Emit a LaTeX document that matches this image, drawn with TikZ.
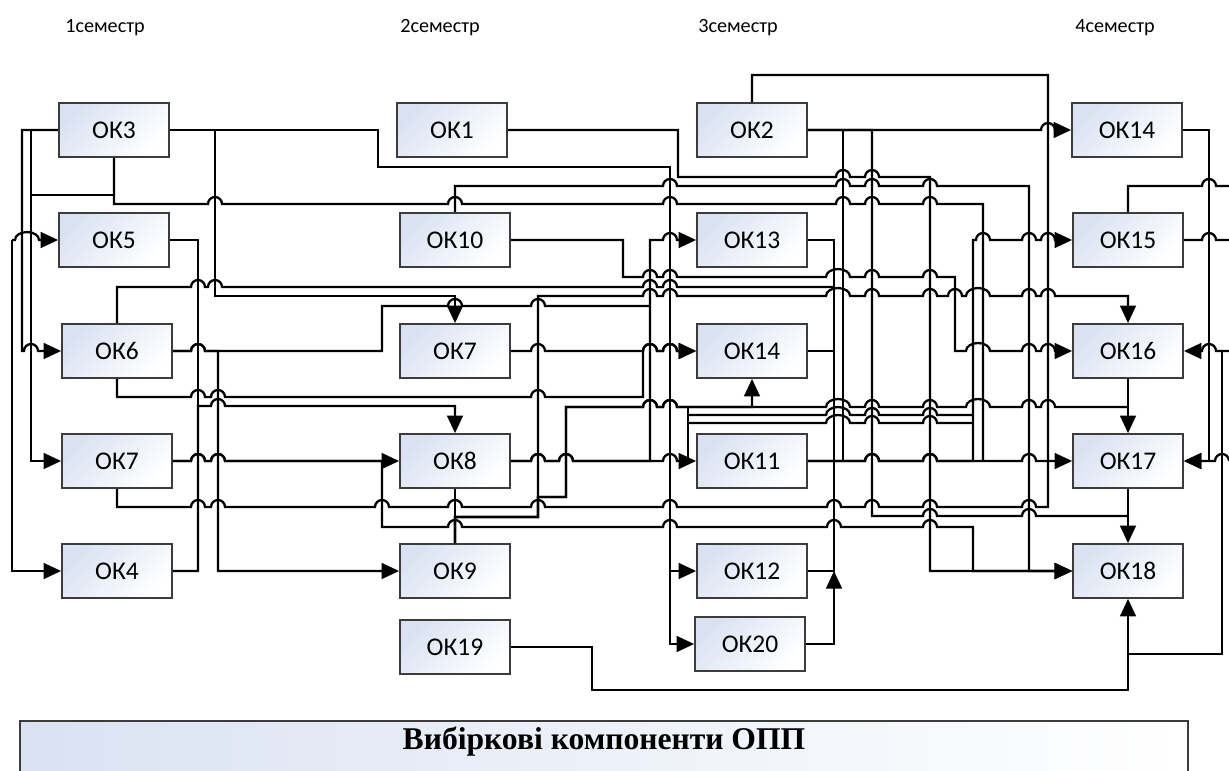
\documentclass[tikz,border=0pt]{standalone}
\usepackage{fontspec}
\setmainfont{Carlito}
\newfontfamily\bannerfont{Liberation Serif}
\usetikzlibrary{arrows.meta}

\definecolor{okfill}{RGB}{218,226,242}
\definecolor{okdraw}{RGB}{60,60,60}

\newcommand\jmp[2]{-- (#1-7,#2) arc[start angle=180,end angle=360,radius=7]}
\newcommand\wjmp[2]{-- (#1-12,#2) arc[start angle=180,end angle=360,x radius=12,y radius=8]}

\begin{document}
\begin{tikzpicture}[x=0.02cm,y=-0.02cm,line width=1.3pt,>={Triangle[length=10pt,width=9pt]},
  ok/.style={draw=okdraw,line width=1pt,top color=okfill,bottom color=white,shading angle=45,
    minimum width=2.2cm,minimum height=1.08cm,inner sep=0pt,font=\fontsize{14.5}{17}\selectfont},
  sem/.style={font=\fontsize{11.5}{14}\selectfont}]
\useasboundingbox (0,0) rectangle (1229,770);

\node[sem] (s1) at (105,28) {1семестр};
\node[sem] (s2) at (440,28) {2семестр};
\node[sem] (s3) at (738,28) {3семестр};
\node[sem] (s4) at (1115,28) {4семестр};

\node[ok] (ok3)  at (114,130) {ОК3};
\node[ok] (ok5)  at (114,240) {ОК5};
\node[ok] (ok6)  at (117,351) {ОК6};
\node[ok] (ok7a) at (117,461) {ОК7};
\node[ok] (ok4)  at (117,571) {ОК4};

\node[ok] (ok1)  at (452,130) {ОК1};
\node[ok] (ok10) at (455,240) {ОК10};
\node[ok] (ok7b) at (455,351) {ОК7};
\node[ok] (ok8)  at (455,461) {ОК8};
\node[ok] (ok9)  at (455,571) {ОК9};
\node[ok] (ok19) at (455,647) {ОК19};

\node[ok] (ok2)  at (752,130) {ОК2};
\node[ok] (ok13) at (752,240) {ОК13};
\node[ok] (ok14a) at (752,351) {ОК14};
\node[ok] (ok11) at (752,461) {ОК11};
\node[ok] (ok12) at (752,571) {ОК12};
\node[ok] (ok20) at (750,644) {ОК20};

\node[ok] (ok14b) at (1127,130) {ОК14};
\node[ok] (ok15) at (1128,240) {ОК15};
\node[ok] (ok16) at (1128,351) {ОК16};
\node[ok] (ok17) at (1128,461) {ОК17};
\node[ok] (ok18) at (1128,571) {ОК18};

\coordinate (lk) at (12,240);
\coordinate (b1) at (688,407);
\coordinate (b2) at (688,415);
\coordinate (b3) at (688,423);
\coordinate (j12) at (834,571);
\coordinate (c3) at (1222,351);
\coordinate (c4) at (1128,654);
\coordinate (r1) at (1229,186);
\coordinate (r2) at (1229,240);
\coordinate (r3) at (1229,351);
\coordinate (r4) at (1229,461);

% 1 семестр
\draw[->] (ok3.west) -- (22,130) -- (22,351) \jmp{31}{351} -- (ok6.west);
\draw[->] (ok3.west) -- (31,130) -- (31,461) -- (ok7a.west);
\draw (ok3.south) -- (114,195) -- (31,195);
\draw[->] (lk) \wjmp{27}{240} -- (ok5.west);
\draw[->] (lk) -- (12,571) -- (ok4.west);
\draw[->] (ok3.east) -- (378,130) -- (378,167) -- (670,167) -- (670,644) -- (ok20.west);
\draw[->] (ok3.east) -- (378,130) -- (378,167) -- (670,167) -- (670,571) -- (ok12.west);
\draw[->] (ok3.east) -- (215,130) -- (215,296) -- (455,296) -- (ok7b.north);
\draw (ok3.south) -- (114,204) \jmp{215}{204} \jmp{455}{204} \jmp{670}{204} \jmp{843}{204} \jmp{872}{204} \jmp{930}{204} -- (983,204) -- (983,461);
\draw (ok5.east) -- (198,240) -- (198,406);
\draw[->] (ok4.east) -- (198,571) -- (198,406) \jmp{218}{406} -- (455,406) -- (ok8.north);
\draw[->] (ok6.east) \jmp{198}{351} -- (218,351) -- (218,571) -- (ok9.west);
\draw (ok6.east) \jmp{198}{351} -- (382,351) -- (382,306) \jmp{455}{306} \jmp{538}{306} -- (650,306);
\draw (ok6.north) -- (117,287) \jmp{198}{287} \jmp{215}{287} \jmp{650}{287} \jmp{670}{287} -- (834,287);
\draw[->] (ok6.south) -- (117,397) \jmp{198}{397} \jmp{218}{397} \jmp{538}{397} -- (643,397) -- (643,351) \jmp{650}{351} \jmp{670}{351} -- (ok14a.west);
\draw[->] (ok7a.east) \jmp{198}{461} \jmp{218}{461} -- (ok8.west);
\draw[->] (ok7a.east) \jmp{198}{461} \jmp{218}{461} -- (382,461) -- (382,527) \jmp{455}{527} \jmp{670}{527} \jmp{834}{527} \jmp{930}{527} -- (973,527) -- (973,571) -- (ok18.west);
\draw (ok7a.south) -- (117,507) \jmp{198}{507} \jmp{218}{507} \jmp{382}{507} \jmp{455}{507} \jmp{538}{507} \jmp{670}{507} \jmp{834}{507} \jmp{872}{507} \jmp{930}{507} \jmp{1029}{507} -- (1048,507) -- (1048,75) -- (752,75) -- (ok2.north);

% 2 семестр
\draw[->] (ok1.east) -- (678,130) -- (678,177) \jmp{843}{177} \jmp{872}{177} -- (930,177) -- (930,571) -- (ok18.west);
\draw[->] (ok10.east) -- (623,240) -- (623,277) \jmp{650}{277} \jmp{670}{277} \wjmp{838}{277} \jmp{872}{277} \jmp{930}{277} -- (955,277) -- (955,351) \wjmp{978}{351} \jmp{1029}{351} \jmp{1048}{351} -- (ok16.west);
\draw[->] (ok10.north) -- (455,186) \jmp{670}{186} \jmp{843}{186} \jmp{872}{186} \jmp{930}{186} -- (1029,186) -- (1029,571) -- (ok18.west);
\draw[->] (ok7b.east) \jmp{538}{351} \jmp{650}{351} \jmp{670}{351} -- (ok14a.west);
\draw[->] (ok8.east) \jmp{538}{461} \jmp{566}{461} -- (650,461) -- (650,240) \jmp{670}{240} -- (ok13.west);
\draw[->] (ok8.east) \jmp{538}{461} \jmp{566}{461} -- (650,461) \jmp{670}{461} -- (ok11.west);
\draw (ok8.south) -- (ok9.north);
\draw[->] (ok9.north) -- (455,517) -- (538,517) -- (538,296) \jmp{650}{296} \jmp{670}{296} \wjmp{838}{296} \jmp{872}{296} \jmp{930}{296} \jmp{955}{296} \wjmp{978}{296} \jmp{1029}{296} \jmp{1048}{296} -- (1128,296) -- (ok16.north);
\draw[->] (ok9.north) -- (455,517) -- (538,517) -- (538,497) -- (566,497) -- (566,407) \jmp{650}{407} \jmp{670}{407} -- (752,407) -- (ok14a.south);
\draw (ok9.north) -- (455,517) -- (538,517) -- (538,497) -- (566,497) -- (566,407) \jmp{650}{407} \jmp{670}{407} \wjmp{838}{407} \jmp{872}{407} \jmp{930}{407} \wjmp{978}{407} \jmp{1029}{407} \jmp{1048}{407} -- (1128,407);
\draw[->] (ok19.east) -- (592,647) -- (592,690) -- (1128,690) -- (ok18.south);

% 3 семестр
\draw (b1) -- (688,461);
\draw (b2) \wjmp{838}{415} \jmp{872}{415} \jmp{930}{415} -- (973,415);
\draw (b3) \wjmp{838}{423} \jmp{872}{423} \jmp{930}{423} -- (973,423);
\draw (ok13.east) -- (834,240) -- (834,571) -- (ok12.east);
\draw (ok14a.east) -- (834,351);
\draw[->] (ok20.east) -- (834,644) -- (j12);
\draw[->] (ok2.east) \jmp{1048}{130} -- (ok14b.west);
\draw (ok2.east) -- (843,130) -- (843,461);
\draw (ok2.east) -- (872,130) -- (872,516) \jmp{930}{516} \jmp{1029}{516} -- (1128,516);
\draw[->] (ok11.east) \jmp{872}{461} \jmp{930}{461} \jmp{1029}{461} -- (ok17.west);
\draw[->] (ok11.east) \jmp{872}{461} \jmp{930}{461} -- (973,461) -- (973,240) \jmp{983}{240} \jmp{1029}{240} \jmp{1048}{240} -- (ok15.west);

% 4 семестр
\draw[->] (ok16.south) -- (ok17.north);
\draw[->] (ok17.south) -- (ok18.north);
\draw[->] (ok14b.east) -- (1209,130) -- (1209,461) -- (ok17.east);
\draw (ok15.north) -- (1128,186) \jmp{1209}{186} -- (r1);
\draw (ok15.east) \jmp{1209}{240} -- (r2);
\draw[<-] (ok16.east) \jmp{1209}{351} -- (r3);
\draw (c3) -- (1222,654) -- (c4);
\draw[<-] (ok17.east) -- (1209,461) \jmp{1222}{461} -- (r4);

\draw[draw=okdraw,line width=1pt,left color=okfill,right color=white] (20,721) rectangle (1188,790);
\node[font=\bannerfont\bfseries\fontsize{18}{22}\selectfont] (vk) at (604,742) {Вибіркові компоненти ОПП};
\end{tikzpicture}
\end{document}
